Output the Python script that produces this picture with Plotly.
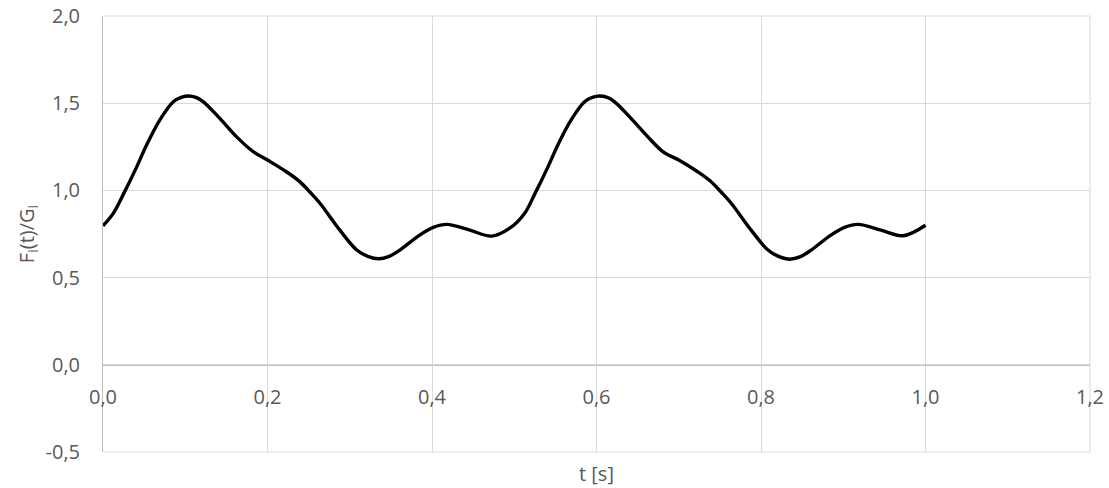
import plotly.graph_objects as go

t_values = [0.000, 0.0125, 0.025, 0.041, 0.053, 0.069, 0.0855, 0.095, 0.104, 0.113, 0.122,
            0.142, 0.1625, 0.183, 0.200, 0.223, 0.2395, 0.252, 0.264, 0.288, 0.3085, 0.322,
            0.335, 0.348, 0.361, 0.385, 0.4016, 0.418, 0.446, 0.4726, 0.495,
            0.5125, 0.525, 0.541, 0.553, 0.569, 0.5855, 0.595, 0.6035, 0.613, 0.622,
            0.642, 0.6625, 0.681, 0.700, 0.723, 0.738, 0.752, 0.764, 0.788, 0.8085, 0.822,
            0.835, 0.848, 0.861, 0.885, 0.9016, 0.918, 0.946, 0.973, 1.000]
f_values = [0.797, 0.868, 0.980, 1.135, 1.260, 1.403, 1.508, 1.533, 1.541, 1.533, 1.508,
            1.413, 1.307, 1.221, 1.174, 1.107, 1.049, 0.988, 0.925, 0.772, 0.658, 0.622,
            0.608, 0.622, 0.658, 0.744, 0.788, 0.805, 0.772, 0.738, 0.785,
            0.868, 0.980, 1.135, 1.260, 1.403, 1.508, 1.533, 1.541, 1.533, 1.508,
            1.413, 1.307, 1.221, 1.174, 1.107, 1.055, 0.988, 0.925, 0.772, 0.658, 0.620,
            0.605, 0.620, 0.658, 0.744, 0.788, 0.805, 0.772, 0.740, 0.800]

x_ticks = [0.0, 0.2, 0.4, 0.6, 0.8, 1.0, 1.2]
x_tick_labels = ["0,0", "0,2", "0,4", "0,6", "0,8", "1,0", "1,2"]
y_ticks = [-0.5, 0.0, 0.5, 1.0, 1.5, 2.0]
y_tick_labels = ["-0,5", "0,0", "0,5", "1,0", "1,5", "2,0"]

FONT = "Open Sans"
GREY = "#595959"
GRID = "#d9d9d9"
FS = 20

fig = go.Figure()
fig.add_trace(go.Scatter(
    x=t_values, y=f_values, mode="lines",
    line=dict(color="black", width=3.4, shape="spline", smoothing=1.0),
    showlegend=False, hoverinfo="skip",
))

fig.update_layout(
    width=1109, height=488,
    margin=dict(l=103, r=19, t=16, b=36, autoexpand=False),
    paper_bgcolor="white", plot_bgcolor="white",
    font=dict(family=FONT, size=FS, color=GREY),
    xaxis=dict(
        range=[0, 1.2], tickvals=x_ticks, ticktext=x_tick_labels,
        showgrid=True, gridcolor=GRID, gridwidth=1,
        zeroline=False, showline=True, linecolor="#bfbfbf", linewidth=1,
        anchor="free", position=0.2, automargin=False,
        ticks="", ticklabelstandoff=14, ticklabeloverflow="allow",
        tickfont=dict(family=FONT, size=FS, color=GREY),
    ),
    yaxis=dict(
        range=[-0.5, 2.0], tickvals=y_ticks, ticktext=y_tick_labels,
        domain=[0, 1], automargin=False,
        showgrid=True, gridcolor=GRID, gridwidth=1,
        zeroline=False, showline=True, linecolor="#bfbfbf", linewidth=1,
        ticks="", ticklabelstandoff=18, ticklabeloverflow="allow",
        tickfont=dict(family=FONT, size=FS, color=GREY),
        title=dict(text="F<sub>i</sub>(t)/G<sub>i</sub>", standoff=5,
                   font=dict(family=FONT, size=FS, color=GREY)),
    ),
    shapes=[
        dict(type="line", xref="paper", yref="paper", x0=0, x1=1, y0=0, y1=0,
             line=dict(color=GRID, width=1), layer="below"),
        dict(type="line", xref="paper", yref="paper", x0=0, x1=1, y0=1, y1=1,
             line=dict(color=GRID, width=1), layer="below"),
        dict(type="line", xref="paper", yref="paper", x0=1, x1=1, y0=0, y1=1,
             line=dict(color=GRID, width=1), layer="below"),
    ],
    annotations=[dict(
        text="t [s]", xref="paper", yref="paper", x=0.5, y=-0.05,
        xanchor="center", yanchor="middle", showarrow=False,
        font=dict(family=FONT, size=FS, color=GREY),
    )],
)

fig.write_html("out.html", config={"displayModeBar": False},
               post_script="document.body.style.margin='0';")
